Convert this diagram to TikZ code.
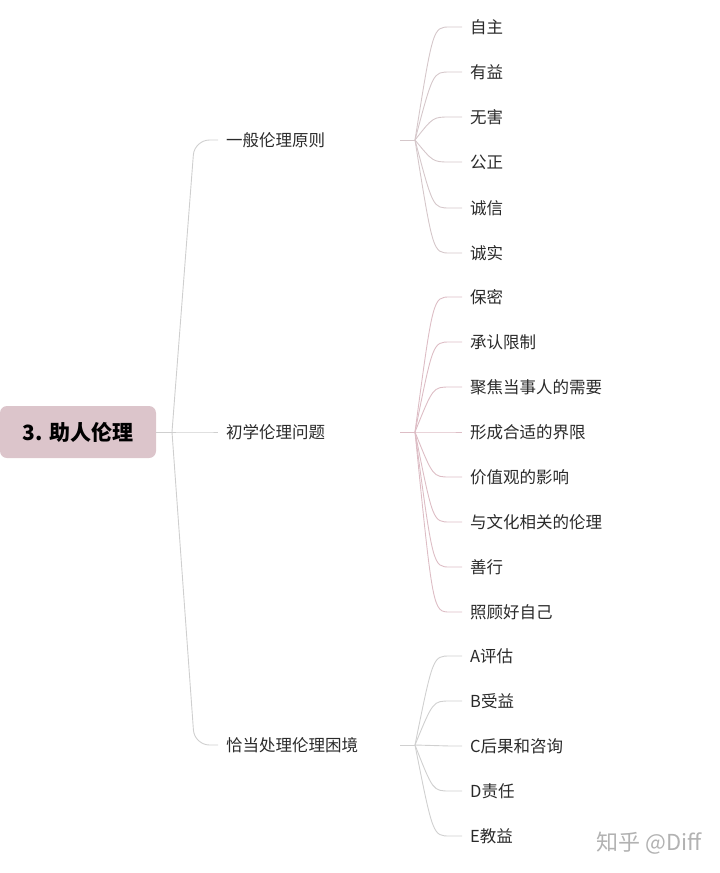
\documentclass[tikz,border=0pt]{standalone}
\usepackage{fontspec}
\setmainfont{Noto Sans CJK SC}
\usetikzlibrary{calc}
\definecolor{rootfill}{HTML}{DCC5CB}
\definecolor{lineA}{HTML}{CFCFCF}
\definecolor{lineB}{HTML}{D5C7CA}
\definecolor{lineC}{HTML}{DDBDC5}
\definecolor{lineD}{HTML}{D0D0D0}
\definecolor{txt}{HTML}{2A2A2A}
\begin{document}
\begin{tikzpicture}[x=1pt,y=-1pt,
  rootbox/.style={fill=rootfill, rounded corners=7pt, minimum width=156pt, minimum height=52pt, inner sep=0pt, font=\fontsize{21}{24}\selectfont\bfseries, text=black},
  lvone/.style={anchor=west, inner sep=0pt, text width=174pt, text height=1.4em, text depth=0.01em, font=\fontsize{16.5}{20}\selectfont, text=txt},
  lvtwo/.style={anchor=west, inner sep=0pt, text height=1.4em, text depth=0.01em, font=\fontsize{16.5}{20}\selectfont, text=txt},
  trunk/.style={draw=lineA, line width=0.9pt, rounded corners=15pt},
  twig/.style={line width=0.9pt},
  mark text/.style={anchor=east, inner sep=0pt, text=gray!60, font=\fontsize{22}{26}\selectfont},
]
\useasboundingbox (0,0) rectangle (720,873);

% root
\node[rootbox] (root) at (78,432) {3. 助人伦理};
\coordinate (h0) at (172,432);

% level one
\node[lvone] (a) at (226,140) {一般伦理原则};
\node[lvone] (b) at (226,432) {初学伦理问题};
\node[lvone] (c) at (226,745) {恰当处理伦理困境};

\draw[trunk] (root.east) -- (h0);
\foreach \n in {a,b,c}
  \draw[trunk] (h0) -- ($(h0 |- \n)+(22.5,0)$) -- ($(\n.west)+(-8,0)$);

% hubs
\coordinate (ha) at (415,140);
\coordinate (hb) at (415,432);
\coordinate (hc) at (415,745);
\draw[lineB, twig] (a.east) -- (ha);
\draw[lineC, twig] (b.east) -- (hb);
\draw[lineD, twig] (c.east) -- (hc);

% level two, group a
\foreach \n/\y/\t in {a1/27/自主, a2/72/有益, a3/117/无害, a4/162/公正, a5/208/诚信, a6/253/诚实} {
  \node[lvtwo] (\n) at (470,\y) {\t};
  \draw[lineB, twig] (ha) .. controls ($(ha |- \n)+(18,0)$) .. ($(ha |- \n)+(35,0)$) -- ($(\n.west)+(-8,0)$);
}

% level two, group b
\foreach \n/\y/\t in {b1/297/保密, b2/342/承认限制, b3/387/聚焦当事人的需要, b4/432/形成合适的界限, b5/477/价值观的影响, b6/522/与文化相关的伦理, b7/567/善行, b8/612/照顾好自己} {
  \node[lvtwo] (\n) at (470,\y) {\t};
  \draw[lineC, twig] (hb) .. controls ($(hb |- \n)+(18,0)$) .. ($(hb |- \n)+(35,0)$) -- ($(\n.west)+(-8,0)$);
}

% level two, group c
\foreach \n/\y/\t in {c1/656/A评估, c2/701/B受益, c3/746/C后果和咨询, c4/791/D责任, c5/836/E教益} {
  \node[lvtwo] (\n) at (470,\y) {\t};
  \draw[lineD, twig] (hc) .. controls ($(hc |- \n)+(18,0)$) .. ($(hc |- \n)+(35,0)$) -- ($(\n.west)+(-8,0)$);
}

% watermark
\node[mark text] (wm) at (702,843) {知乎 @Diff};
\end{tikzpicture}
\end{document}
